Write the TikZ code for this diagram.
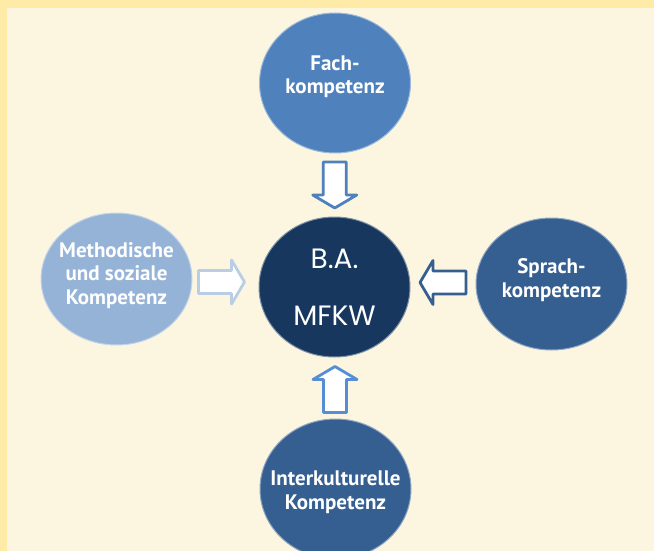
\documentclass[tikz,border=0pt]{standalone}
\usepackage{fontspec}
\setmainfont{PT Sans}
\newfontfamily\geofont{Poppins}
\usetikzlibrary{shapes.geometric,calc}
\definecolor{bgcream}{HTML}{FCF6E0}
\definecolor{bgyellow}{HTML}{FFEBA8}
\definecolor{cFach}{HTML}{4F81BD}
\definecolor{cMeth}{HTML}{95B3D7}
\definecolor{cDark}{HTML}{365F91}
\definecolor{cCenter}{HTML}{17375E}
\definecolor{aDown}{HTML}{4F81BD}
\definecolor{aUp}{HTML}{558ED5}
\definecolor{aRight}{HTML}{B9CDE5}
\definecolor{aLeft}{HTML}{365F91}
\tikzset{
  x=1pt, y=-1pt,
  blob/.style={ellipse, inner sep=0pt, minimum width=151pt, minimum height=140pt, draw=white!45!#1, line width=1pt, fill=#1},
  lbl/.style={text=white, font=\bfseries\fontsize{21}{23.5}\selectfont, align=center},
  blockarr/.style={draw=#1, fill=white, line width=2.8pt, line join=round}
}
\newcommand{\blockarrow}[3]{%
  \draw[blockarr=#3, shift={(#1)}, rotate=#2]
    (-23,-11.5) -- (10,-11.5) -- (10,-22) -- (23,0) -- (10,22) -- (10,11.5) -- (-23,11.5) -- cycle;}
\begin{document}
\begin{tikzpicture}
\useasboundingbox (0,0) rectangle (654,551);
\clip (0,0) rectangle (654,551);
\fill[bgyellow] (0,0) rectangle (654,551);
\fill[bgcream] (7,8) rectangle (654,551);

\node[blob=cFach] (fach) at (335,83) {};
\node[lbl] (fachtxt) at (335,77) {Fach-\\kompetenz};

\node[blob=cMeth, minimum height=132pt] (meth) at (116.5,279) {};
\node[lbl] (methtxt) at (116.5,275.5) {Methodische\\und soziale\\Kompetenz};

\node[blob=cDark, minimum height=132pt] (sprach) at (551.5,284) {};
\node[lbl] (sprachtxt) at (551.5,280) {Sprach-\\kompetenz};

\node[blob=cDark] (inter) at (335.5,489) {};
\node[lbl] (intertxt) at (335.5,492) {Interkulturelle\\Kompetenz};

\node[blob=cCenter, text=white, font=\geofont\fontsize{28}{57}\selectfont, align=center] (ba) at (334.5,287) {B.A.\\MFKW};

\coordinate (pdown) at ($(fach.south)!0.5!(ba.north)$);
\coordinate (pup) at ($(ba.south)!0.5!(inter.north)+(0,1.5)$);
\coordinate (pright) at (221.5,282);
\coordinate (pleft) at ($(ba.east)!0.5!(sprach.west)+(0,-3)$);

\blockarrow{pdown}{-90}{aDown}
\blockarrow{pup}{90}{aUp}
\blockarrow{pright}{0}{aRight}
\blockarrow{pleft}{180}{aLeft}
\end{tikzpicture}
\end{document}
